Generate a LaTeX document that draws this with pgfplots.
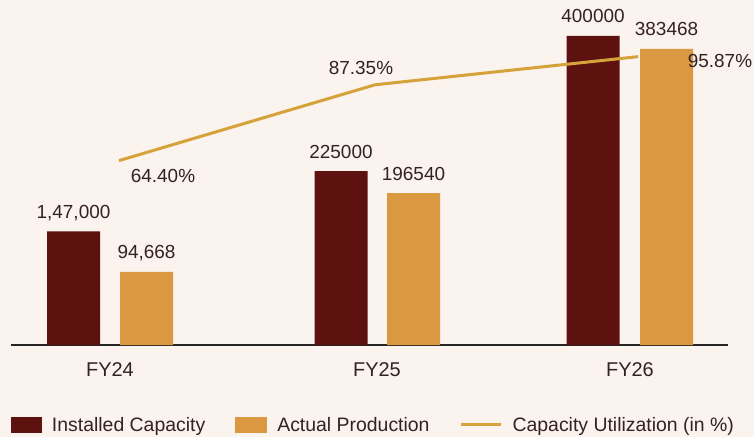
\documentclass[border=0pt]{standalone}
\usepackage{fontspec}
\setmainfont{Liberation Sans}
\usepackage{pgfplots}
\pgfplotsset{compat=1.18}
\definecolor{bg}{RGB}{250,243,238}
\definecolor{maroon}{RGB}{94,18,16}
\definecolor{gold}{RGB}{218,152,64}
\definecolor{lineg}{RGB}{214,163,58}
\definecolor{txt}{RGB}{52,34,34}
\begin{document}
\begin{tikzpicture}
\fill[bg] (0,0) rectangle (754bp,437bp);
\begin{axis}[
  at={(11bp,92bp)}, anchor=south west, scale only axis,
  width=717bp, height=325bp, clip=false,
  xmin=11, xmax=728, ymin=0, ymax=420712,
  axis x line*=bottom, axis y line=none,
  x axis line style={draw=black!85, line width=1.4bp, -},
  xtick={110,377,630}, xticklabels={FY24,FY25,FY26},
  major tick length=0pt, ytick=\empty,
  /pgf/number format/assume math mode=true,
  xticklabel style={font=\fontsize{20}{22}\selectfont, text=txt, anchor=base, yshift=-31.5bp},
  nodes near coords, point meta=explicit symbolic,
  every node near coord/.append style={font=\fontsize{19}{21}\selectfont, text=txt, anchor=base, inner sep=0pt, yshift=13bp},
  legend columns=3, legend cell align=left,
  legend style={at={(0,-0.246)}, anchor=west, draw=none, fill=none,
    inner sep=0pt, outer sep=0pt,
    font=\fontsize{19.5}{22}\selectfont, text=txt,
    /tikz/every odd column/.append style={column sep=8bp},
    /tikz/every even column/.append style={column sep=28bp}},
]
\addplot[ybar, bar width=53, bar shift=0, fill=maroon, draw=none,
  legend image code/.code={\fill[maroon] (0bp,-8bp) rectangle (31bp,8bp);}]
  table[x=x, y=y, meta=lab] {
x y lab
73.5 147000 1,47,000
341 225000 225000
593 400000 400000
};
\addplot[ybar, bar width=53, bar shift=0, fill=gold, draw=none,
  legend image code/.code={\fill[gold] (0bp,-8bp) rectangle (32bp,8bp);}]
  table[x=x, y=y, meta=lab] {
x y lab
146.5 94668 94,668
413.5 196540 196540
666.5 383468 383468
};
\addlegendimage{legend image code/.code={\draw[lineg, line width=3bp] (0bp,0bp) -- (40bp,0bp);}}
\legend{Installed Capacity, Actual Production, Capacity Utilization (in \%)}
\end{axis}
\begin{axis}[
  at={(11bp,92bp)}, anchor=south west, scale only axis,
  width=717bp, height=325bp, clip=false,
  xmin=11, xmax=728, ymin=8.59, ymax=106.96,
  axis lines=none,
]
\addplot[lineg, line width=3bp, mark=none] coordinates {(119,64.40) (375,87.35) (638,95.87)};
\node[font=\fontsize{19}{21}\selectfont, text=txt, xshift=44bp, yshift=-15bp] at (axis cs:119,64.40) {64.40\%};
\node[font=\fontsize{19}{21}\selectfont, text=txt, xshift=-14bp, yshift=17bp] at (axis cs:375,87.35) {87.35\%};
\node[font=\fontsize{19}{21}\selectfont, text=txt, xshift=82bp, yshift=-4bp] at (axis cs:638,95.87) {95.87\%};
\end{axis}
\pgfresetboundingbox
\path[use as bounding box] (0,0) rectangle (754bp,437bp);
\end{tikzpicture}
\end{document}
